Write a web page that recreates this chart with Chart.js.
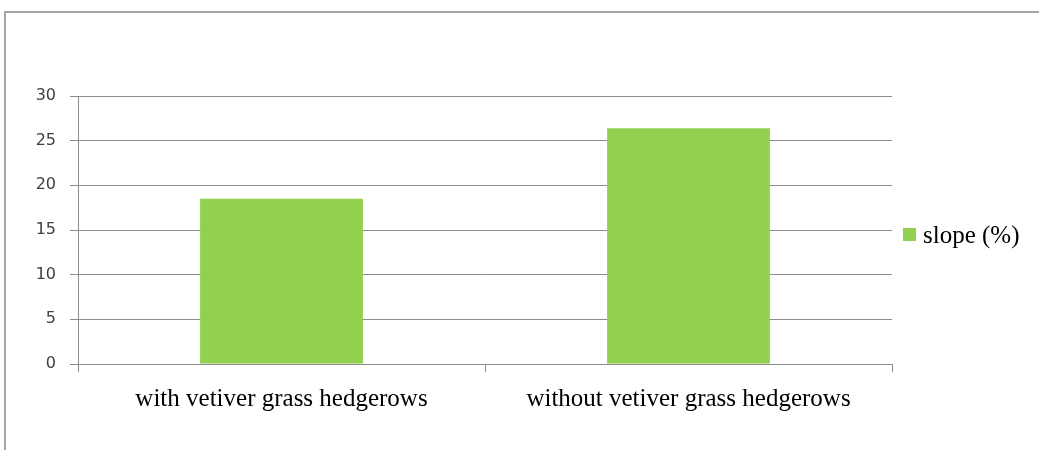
<!DOCTYPE html>
<html>
<head>
  <title>Slope chart</title>
  <script src="https://cdn.jsdelivr.net/npm/chart.js"></script>
  <style>
    html, body { margin: 0; padding: 0; background: #fff; }
    #wrap { position: relative; width: 1039px; height: 450px; }
  </style>
</head>
<body>
  <div id="wrap"><canvas id="slopeChart" width="1039" height="450"></canvas></div>

  <script>
    // chart data
    const categories = ['with vetiver grass hedgerows', 'without vetiver grass hedgerows'];
    const slopeValues = [18.5, 26.4];
    const seriesName = 'slope (%)';
    const yTicks = [0, 5, 10, 15, 20, 25, 30];

    const barColor = '#92D050';
    const gridColor = '#8c8c8c';

    // outer frame + legend drawn by hand, like the original spreadsheet chart
    const framePlugin = {
      id: 'frame',
      beforeDraw(chart) {
        const ctx = chart.ctx;
        ctx.save();
        ctx.fillStyle = '#fff';
        ctx.fillRect(0, 0, chart.width, chart.height);
        ctx.strokeStyle = '#a6a6a6';
        ctx.lineWidth = 2;
        ctx.strokeRect(5, 12, 1200, 600);
        ctx.restore();
      },
      afterDraw(chart) {
        const ctx = chart.ctx;
        const ds = chart.data.datasets[0];
        ctx.save();
        ctx.fillStyle = ds.backgroundColor;
        ctx.fillRect(903, 228, 13, 13);
        ctx.fillStyle = '#000';
        ctx.font = '25px "Liberation Serif"';
        ctx.textBaseline = 'middle';
        ctx.fillText(ds.label, 923, 236);
        ctx.restore();
      }
    };

    new Chart(document.getElementById('slopeChart'), {
      type: 'bar',
      data: {
        labels: categories,
        datasets: [{
          label: seriesName,
          data: slopeValues,
          backgroundColor: barColor,
          borderWidth: 0,
          barPercentage: 0.4,
          categoryPercentage: 1
        }]
      },
      options: {
        responsive: false,
        animation: false,
        layout: { padding: { left: 0, top: 96, right: 147, bottom: 0 } },
        plugins: { legend: { display: false }, tooltip: { enabled: false } },
        scales: {
          x: {
            afterFit(scale) { scale.height = 86; },
            grid: { drawOnChartArea: false, drawTicks: true, tickLength: 8, color: gridColor },
            border: { color: gridColor },
            ticks: {
              color: '#000',
              padding: 12,
              maxRotation: 0,
              font: { family: '"Liberation Serif"', size: 25 }
            }
          },
          y: {
            min: 0,
            max: 30,
            afterFit(scale) { scale.width = 78; },
            afterBuildTicks(scale) { scale.ticks = yTicks.map(v => ({ value: v })); },
            grid: { color: gridColor, tickLength: 8 },
            border: { color: gridColor },
            ticks: {
              color: '#404040',
              padding: 14,
              font: { family: '"DejaVu Sans"', size: 16 }
            }
          }
        }
      },
      plugins: [framePlugin]
    });
  </script>
</body>
</html>
